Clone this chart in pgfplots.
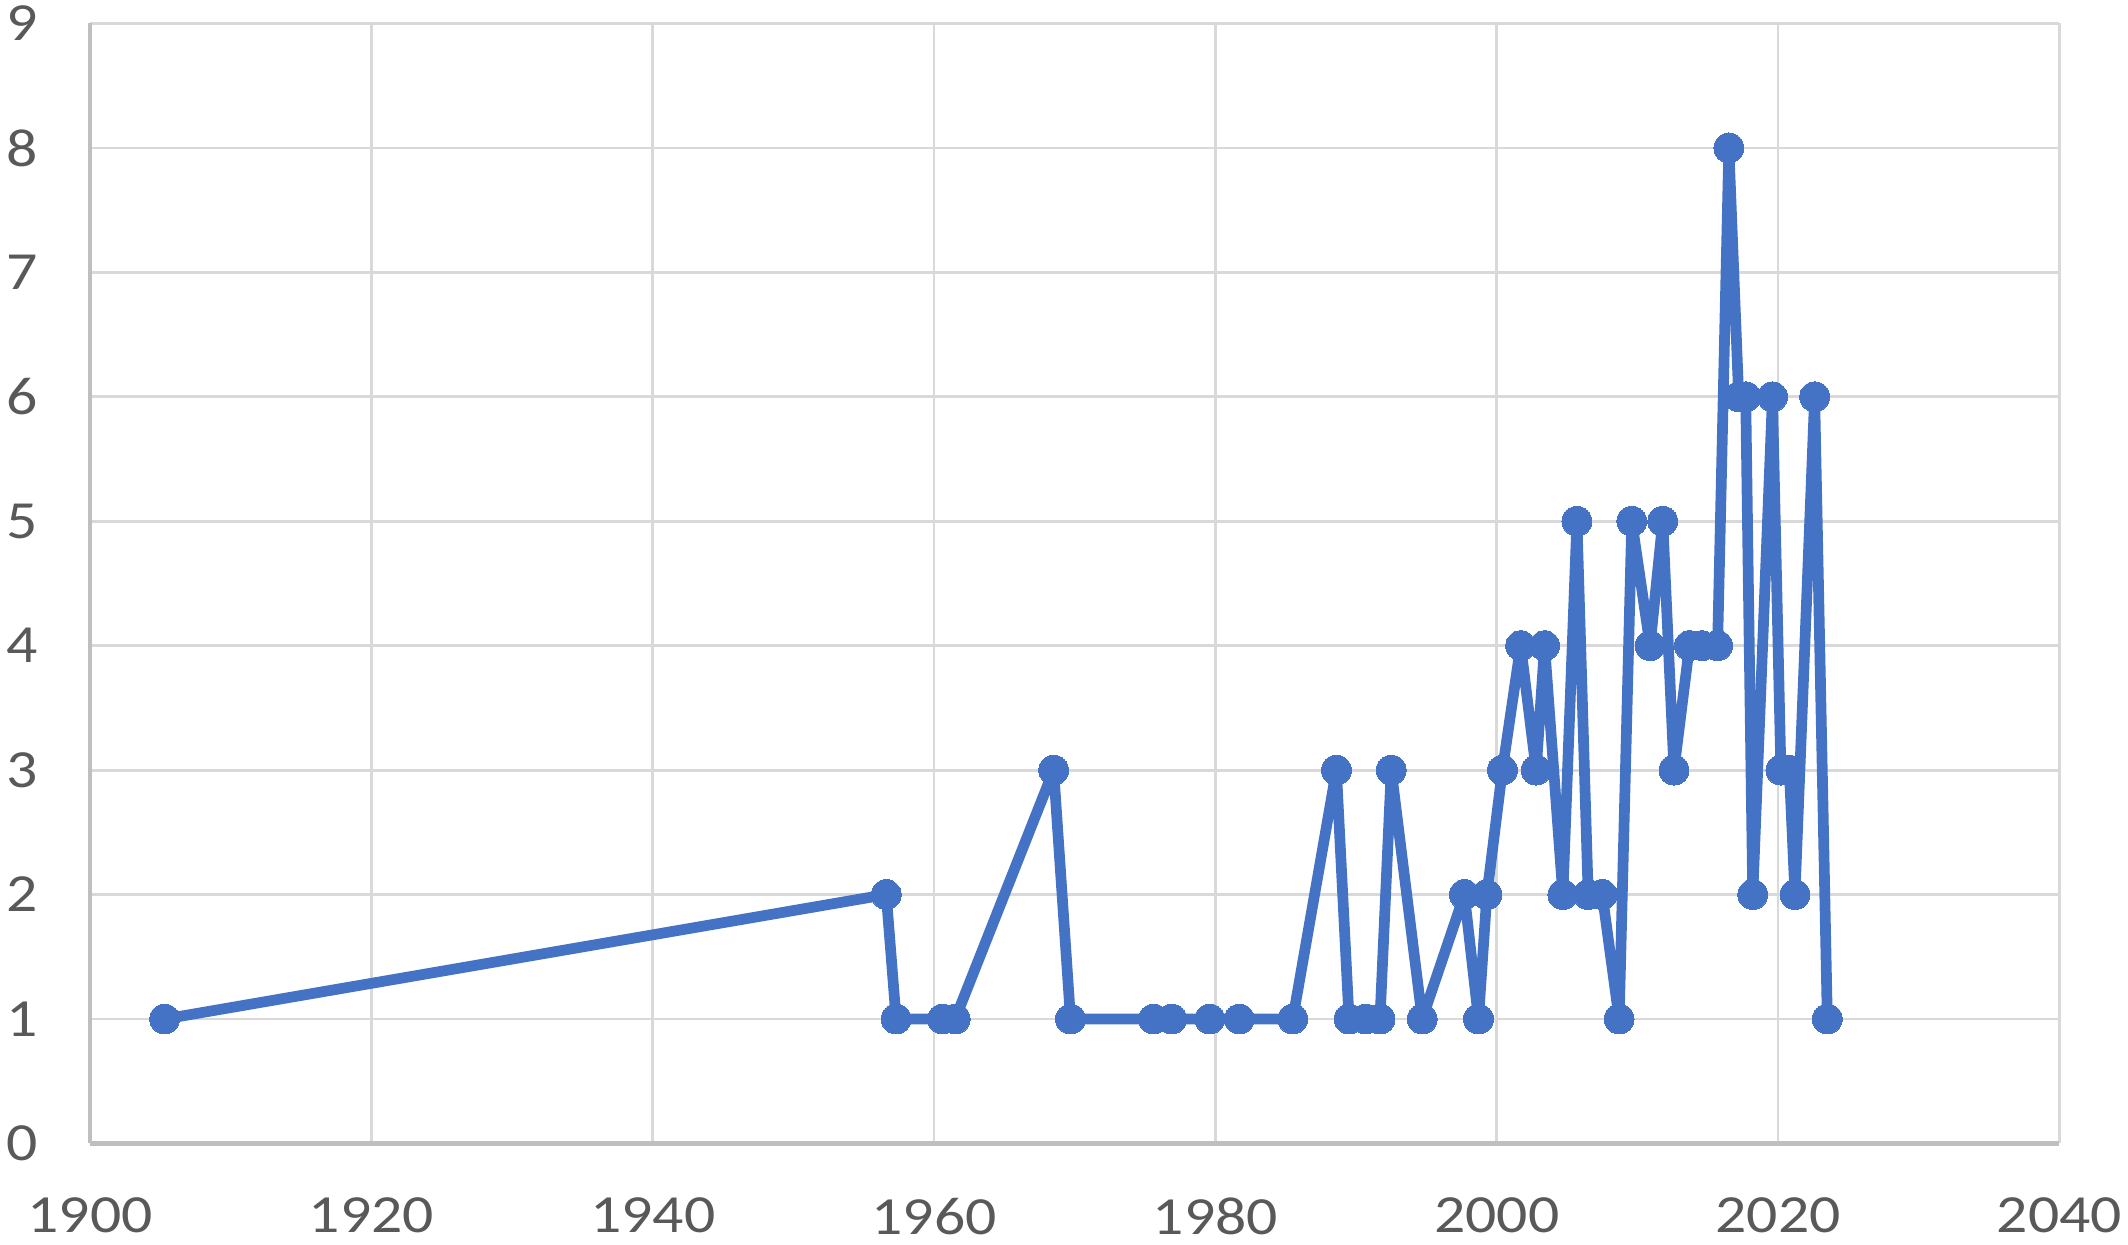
\documentclass[border=0pt]{standalone}
\usepackage{pgfplots}
\pgfplotsset{compat=1.18}
\usepackage{fontspec}
\setmainfont{Carlito}[FakeStretch=1.15]
\definecolor{xlblue}{HTML}{4472C4}
\definecolor{gridgray}{HTML}{D9D9D9}
\definecolor{axgray}{HTML}{BFBFBF}
\definecolor{labgray}{HTML}{595959}
\begin{document}
\begin{tikzpicture}
\begin{axis}[
  scale only axis,
  width=422pt, height=240pt,
  xmin=1900, xmax=2040, ymin=0, ymax=9,
  xtick={1900,1920,...,2040},
  ytick={0,1,...,9},
  axis lines=left,
  axis line style={-, draw=axgray, line width=0.9pt},
  grid=major,
  major grid style={draw=gridgray, line width=0.6pt},
  major tick length=0pt,
  tick label style={font=\fontsize{11.5}{13}\selectfont, text=labgray, inner sep=1.3pt},
  xticklabel style={inner ysep=2pt},
  /pgf/number format/assume math mode=true,
  /pgf/number format/1000 sep={},
  xticklabel shift=9.5pt,
  yticklabel shift=9.8pt,
  clip=false,
]
\addplot[color=xlblue, line width=2.3pt, line join=round, mark=*, mark size=3.2pt,
  mark options={fill=xlblue, draw=xlblue, line width=0pt}]
coordinates {
(1905.3,1)
(1956.6,2)
(1957.3,1)
(1960.6,1)
(1961.5,1)
(1968.5,3)
(1969.7,1)
(1975.6,1)
(1976.9,1)
(1979.6,1)
(1981.7,1)
(1985.5,1)
(1988.6,3)
(1989.5,1)
(1990.7,1)
(1991.7,1)
(1992.5,3)
(1994.7,1)
(1997.7,2)
(1998.7,1)
(1999.3,2)
(2000.4,3)
(2001.7,4)
(2002.8,3)
(2003.4,4)
(2004.7,2)
(2005.7,5)
(2006.5,2)
(2007.5,2)
(2008.7,1)
(2009.6,5)
(2010.9,4)
(2011.8,5)
(2012.6,3)
(2013.7,4)
(2014.6,4)
(2015.7,4)
(2016.5,8)
(2017.2,6)
(2017.7,6)
(2018.2,2)
(2019.6,6)
(2020.2,3)
(2020.8,3)
(2021.2,2)
(2022.6,6)
(2023.5,1)
};
\end{axis}
\end{tikzpicture}
\end{document}
